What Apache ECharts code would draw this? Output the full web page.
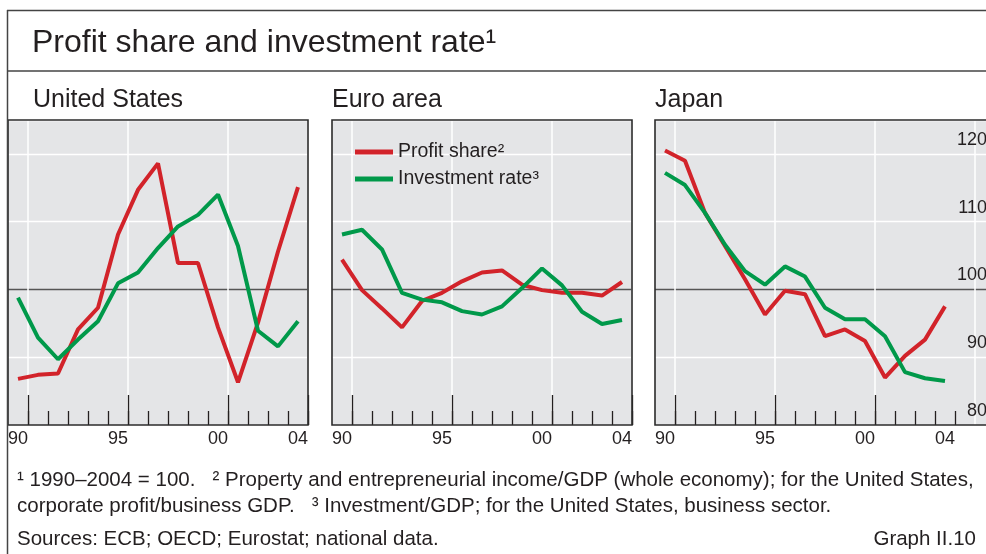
<!DOCTYPE html>
<html>
<head>
<meta charset="utf-8">
<script src="https://cdn.jsdelivr.net/npm/echarts@6/dist/echarts.min.js"></script>
<style>
  html, body { margin: 0; padding: 0; background: #fff; }
  #chart { width: 986px; height: 554px; }
</style>
</head>
<body>
<div id="chart"></div>
<script>
// years on the x axis (one band per year)
var years = ['90','91','92','93','94','95','96','97','98','99','00','01','02','03','04'];
var yearLabels = ['90','95','00','04'];

// 1990-2004 = 100
var usProfit = [86.8, 87.4, 87.6, 94.1, 97.3, 108.1, 114.7, 118.6, 103.9, 103.9, 94.4, 86.3, 95.1, 105.6, 115.1];
var usInvest = [98.8, 92.9, 89.7, 92.6, 95.3, 100.9, 102.5, 106.1, 109.3, 111.0, 114.0, 106.4, 93.9, 91.6, 95.3];
var euProfit = [104.4, 99.9, 97.2, 94.4, 98.3, 99.5, 101.2, 102.5, 102.8, 100.7, 99.9, 99.5, 99.5, 99.1, 101.1];
var euInvest = [108.1, 108.8, 105.9, 99.5, 98.5, 98.1, 96.8, 96.3, 97.5, 100.2, 103.1, 100.6, 96.7, 94.9, 95.5];
var jpProfit = [120.5, 119.0, 111.3, 106.4, 101.5, 96.3, 99.8, 99.3, 93.1, 94.1, 92.4, 87.0, 90.2, 92.6, 97.5];
var jpInvest = [117.2, 115.4, 111.3, 106.6, 102.7, 100.7, 103.4, 101.9, 97.3, 95.6, 95.6, 93.1, 87.8, 86.9, 86.5];

var yMin = 80, yMax = 125, yStep = 10;

var seriesNames = ['Profit share\u00b2', 'Investment rate\u00b3'];
var red = '#d2232a', green = '#00994a';
var ink = '#231f20';
var font = '"Liberation Sans", Arial, sans-serif';

var myChart = echarts.init(document.getElementById('chart'));

// panel layout: left, width, number of bands
var panels = [
  { left: 8,   width: 300, bands: 15, title: 'United States', profit: usProfit, invest: usInvest },
  { left: 332, width: 300, bands: 15, title: 'Euro area',     profit: euProfit, invest: euInvest },
  { left: 655, width: 340, bands: 17, title: 'Japan',         profit: jpProfit, invest: jpInvest }
];
var gridTop = 120, gridHeight = 305;

var grids = [], xAxes = [], yAxes = [], series = [], graphics = [];

panels.forEach(function (p, i) {
  var cats = years.slice();
  while (cats.length < p.bands) cats.push('');
  grids.push({
    left: p.left, top: gridTop, width: p.width, height: gridHeight,
    outerBoundsMode: 'none', containLabel: false,
    show: true, backgroundColor: '#e4e5e7', borderWidth: 0
  });
  // main axis: labels, short ticks, white year lines
  xAxes.push({
    gridIndex: i, type: 'category', data: cats, boundaryGap: true, position: 'bottom',
    axisLine: { show: false },
    axisTick: {
      show: true, inside: true, length: 14,
      interval: function (idx) { return idx >= 1 && idx <= 15; },
      lineStyle: { color: ink, width: 1.3 }
    },
    axisLabel: {
      interval: function (idx, val) { return yearLabels.indexOf(val) >= 0; },
      color: ink, fontSize: 18, fontFamily: font, margin: 5
    },
    splitLine: {
      show: true,
      interval: function (idx) { return idx === 1 || idx === 6 || idx === 11 || idx === 16; },
      lineStyle: { color: '#ffffff', width: 1.5 }
    }
  });
  // second axis: long ticks at 90 / 95 / 00
  xAxes.push({
    gridIndex: i, type: 'category', data: cats, boundaryGap: true, position: 'bottom', offset: 0,
    axisLine: { show: false }, axisLabel: { show: false }, splitLine: { show: false },
    axisTick: {
      show: true, inside: true, length: 30,
      interval: function (idx) { return idx === 1 || idx === 6 || idx === 11; },
      lineStyle: { color: ink, width: 1.3 }
    }
  });
  yAxes.push({
    gridIndex: i, type: 'value', min: yMin, max: yMax, interval: yStep,
    position: 'right',
    axisLine: { show: false }, axisTick: { show: false },
    axisLabel: {
      show: i === 2, inside: true, showMaxLabel: false,
      color: ink, fontSize: 18, fontFamily: font, margin: 8,
      verticalAlign: 'bottom', lineHeight: 18, padding: [0, 0, 5, 0]
    },
    splitLine: {
      show: true,
      lineStyle: { color: ['#ffffff', '#ffffff', '#555555', '#ffffff', '#ffffff', '#ffffff'], width: 1.4 }
    }
  });
  series.push({
    name: seriesNames[0], type: 'line', xAxisIndex: i * 2, yAxisIndex: i,
    data: p.profit, symbol: 'none', lineStyle: { color: red, width: 4 }, itemStyle: { color: red },
    z: 3
  });
  series.push({
    name: seriesNames[1], type: 'line', xAxisIndex: i * 2, yAxisIndex: i,
    data: p.invest, symbol: 'none', lineStyle: { color: green, width: 4 }, itemStyle: { color: green },
    z: 3
  });
  // panel frame
  graphics.push({
    type: 'rect', z: 10, silent: true,
    shape: { x: p.left, y: gridTop, width: p.width, height: gridHeight },
    style: { fill: null, stroke: '#2b2b2b', lineWidth: 1.6 }
  });
  graphics.push({
    type: 'text', left: p.left + (i === 0 ? 25 : 0), top: 88,
    style: { text: p.title, fontSize: 25, fontFamily: font, fill: ink }
  });
});

// outer frame and title
graphics.push(
  { type: 'line', z: 10, silent: true, shape: { x1: 7, y1: 10.5, x2: 990, y2: 10.5 }, style: { stroke: '#444', lineWidth: 1.5 } },
  { type: 'line', z: 10, silent: true, shape: { x1: 7, y1: 71, x2: 990, y2: 71 }, style: { stroke: '#444', lineWidth: 1.5 } },
  { type: 'line', z: 10, silent: true, shape: { x1: 7.5, y1: 10, x2: 7.5, y2: 560 }, style: { stroke: '#444', lineWidth: 1.5 } },
  { type: 'text', left: 32, top: 27, style: { text: 'Profit share and investment rate\u00b9', fontSize: 32, fontFamily: font, fill: ink } },
  { type: 'text', left: 17, top: 470, style: { text: '\u00b9 1990\u20132004 = 100.   \u00b2 Property and entrepreneurial income/GDP (whole economy); for the United States,', fontSize: 20.5, fontFamily: font, fill: ink } },
  { type: 'text', left: 17, top: 496, style: { text: 'corporate profit/business GDP.   \u00b3 Investment/GDP; for the United States, business sector.', fontSize: 20.5, fontFamily: font, fill: ink } },
  { type: 'text', left: 17, top: 529, style: { text: 'Sources: ECB; OECD; Eurostat; national data.', fontSize: 20.5, fontFamily: font, fill: ink } },
  { type: 'text', right: 10, top: 529, style: { text: 'Graph II.10', fontSize: 20.5, fontFamily: font, fill: ink } }
);

var option = {
  animation: false,
  textStyle: { fontFamily: font },
  legend: {
    orient: 'vertical', left: 350, top: 137,
    icon: 'rect', itemWidth: 38, itemHeight: 5, itemGap: 7,
    data: seriesNames,
    textStyle: { color: ink, fontSize: 19.5, fontFamily: font },
    selectedMode: false
  },
  grid: grids,
  xAxis: xAxes,
  yAxis: yAxes,
  series: series,
  graphic: graphics
};

myChart.setOption(option);
</script>
</body>
</html>
